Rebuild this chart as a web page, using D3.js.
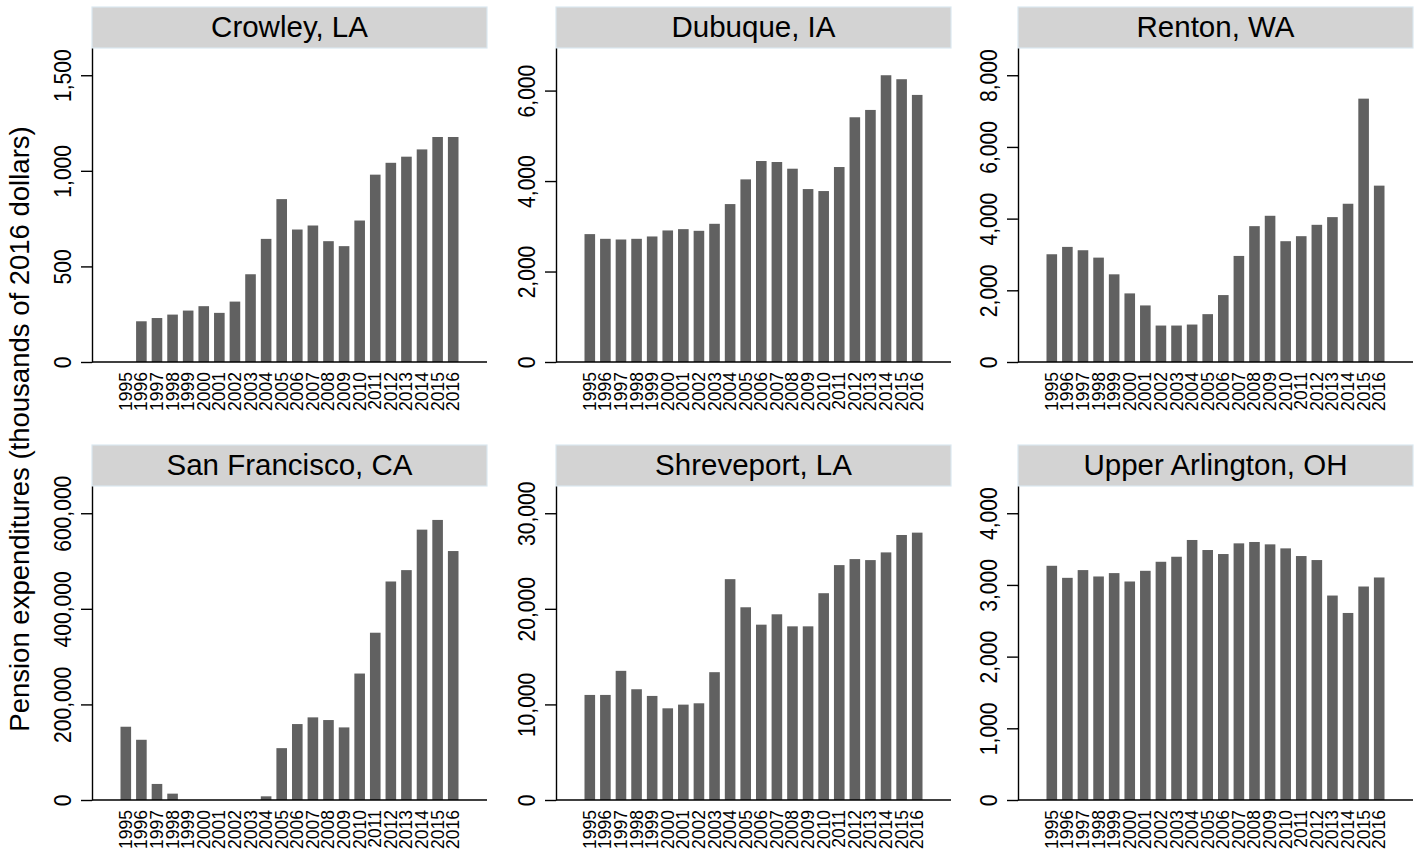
<!DOCTYPE html>
<html>
<head>
<meta charset="utf-8">
<script src="https://cdn.jsdelivr.net/npm/d3@7"></script>
<style>
  body { margin: 0; background: #fff; }
  text { font-family: "Liberation Sans", Arial, sans-serif; fill: #000; }
</style>
</head>
<body>
<div id="chart"></div>
<script>
// years on the x axis
const years = d3.range(1995, 2017).map(String)

// panel titles
const cities = ['Crowley, LA', 'Dubuque, IA', 'Renton, WA', 'San Francisco, CA', 'Shreveport, LA', 'Upper Arlington, OH']

// pension expenditures, thousands of 2016 dollars
const crowley = [null, 213, 230, 248, 269, 292, 257, 316, 459, 644, 852, 693, 714, 632, 606, 740, 980, 1042, 1074, 1112, 1177, 1177]
const dubuque = [2827, 2723, 2708, 2723, 2775, 2908, 2937, 2900, 3055, 3491, 4037, 4443, 4421, 4273, 3823, 3779, 4310, 5410, 5572, 6339, 6251, 5904]
const renton = [3006, 3211, 3118, 2912, 2446, 1914, 1578, 1017, 1017, 1045, 1335, 1867, 2959, 3790, 4079, 3370, 3510, 3827, 4042, 4415, 7347, 4920]
const sanFrancisco = [153300, 126000, 33600, 13300, 0, 0, 0, 0, 0, 7700, 108500, 158900, 172900, 167300, 151900, 264600, 350000, 457200, 481000, 565700, 586000, 520900]
const shreveport = [10992, 10992, 13512, 11587, 10887, 9592, 9977, 10117, 13372, 23104, 20163, 18343, 19428, 18168, 18168, 21634, 24574, 25204, 25099, 25904, 27725, 27970]
const upperArlington = [3267, 3099, 3207, 3118, 3165, 3048, 3197, 3323, 3393, 3627, 3487, 3431, 3580, 3599, 3566, 3510, 3403, 3347, 2852, 2609, 2978, 3104]

// y tick labels per panel
const crowleyTicks = [0, 500, 1000, 1500]
const dubuqueTicks = [0, 2000, 4000, 6000]
const rentonTicks = [0, 2000, 4000, 6000, 8000]
const sanFranciscoTicks = [0, 200000, 400000, 600000]
const shreveportTicks = [0, 10000, 20000, 30000]
const upperArlingtonTicks = [0, 1000, 2000, 3000, 4000]

const series = [crowley, dubuque, renton, sanFrancisco, shreveport, upperArlington]
const tickSets = [crowleyTicks, dubuqueTicks, rentonTicks, sanFranciscoTicks, shreveportTicks, upperArlingtonTicks]

const params = {
  width: 1424,
  height: 854,
  colLeft: [92, 556, 1018],
  rowTop: [7, 445],
  plotWidth: 395,
  stripHeight: 41,
  plotHeight: 314,
}

const svg = d3.select('#chart')
  .append('svg')
  .attr('width', params.width)
  .attr('height', params.height)

const fmt = d3.format(',')

// shared x scale (bars centred with equal margins both sides)
const x = d3.scaleBand()
  .domain(years)
  .range([26, 369])
  .paddingInner(0.32)
  .paddingOuter(0.16)

cities.forEach((city, i) => {
  const left = params.colLeft[i % 3]
  const top = params.rowTop[Math.floor(i / 3)]
  const values = series[i]
  const ticks = tickSets[i]

  const g = svg.append('g')
    .attr('transform', `translate(${left},${top})`)

  // title strip
  g.append('rect')
    .attr('x', 0)
    .attr('y', 0)
    .attr('width', params.plotWidth)
    .attr('height', params.stripHeight)
    .attr('fill', '#d3d3d3')
    .attr('stroke', '#dbe8f0')
    .attr('stroke-width', 1.2)

  g.append('text')
    .attr('x', params.plotWidth / 2)
    .attr('y', 30)
    .attr('text-anchor', 'middle')
    .style('font-size', '29.5px')
    .text(city)

  const plot = g.append('g')
    .attr('transform', `translate(0,${params.stripHeight})`)

  const yMax = Math.max(d3.max(values), d3.max(ticks)) * 1.095
  const y = d3.scaleLinear()
    .domain([0, yMax])
    .range([params.plotHeight, 0])

  // bars
  plot.selectAll('rect.bar')
    .data(values.map((v, j) => ({ year: years[j], value: v })).filter(d => d.value != null))
    .enter()
    .append('rect')
    .attr('class', 'bar')
    .attr('x', d => x(d.year))
    .attr('width', x.bandwidth())
    .attr('y', d => y(d.value))
    .attr('height', d => params.plotHeight - y(d.value))
    .attr('fill', '#616161')

  // y axis
  const yAxis = plot.append('g')
    .call(d3.axisLeft(y).tickValues(ticks).tickFormat(fmt).tickSize(11).tickSizeOuter(0))
  yAxis.select('.domain').attr('stroke', '#000').attr('stroke-width', 1.4)
  yAxis.selectAll('.tick line').attr('stroke', '#000').attr('stroke-width', 1.4)
  yAxis.selectAll('.tick text')
    .attr('x', null)
    .attr('dy', null)
    .attr('transform', 'translate(-21,0) rotate(-90) scale(0.86,1)')
    .attr('text-anchor', 'middle')
    .style('font-size', '24.5px')
    .style('font-family', '"Liberation Sans", Arial, sans-serif')
    .attr('fill', '#000')

  // x axis
  const xAxis = plot.append('g')
    .attr('transform', `translate(0,${params.plotHeight})`)
    .call(d3.axisBottom(x).tickSize(0).tickSizeOuter(0))
  xAxis.select('.domain')
    .attr('d', `M0,0H${params.plotWidth}`)
    .attr('stroke', '#000')
    .attr('stroke-width', 1.4)
  xAxis.selectAll('.tick text')
    .attr('y', null)
    .attr('dy', null)
    .attr('transform', 'translate(0,10) rotate(-90)')
    .attr('text-anchor', 'end')
    .attr('dominant-baseline', 'central')
    .style('font-size', '17.5px')
    .style('font-family', '"Liberation Sans", Arial, sans-serif')
    .attr('fill', '#000')
})

// shared y axis title
svg.append('text')
  .attr('transform', 'translate(29,429) rotate(-90)')
  .attr('text-anchor', 'middle')
  .style('font-size', '27.5px')
  .text('Pension expenditures (thousands of 2016 dollars)')
</script>
</body>
</html>
